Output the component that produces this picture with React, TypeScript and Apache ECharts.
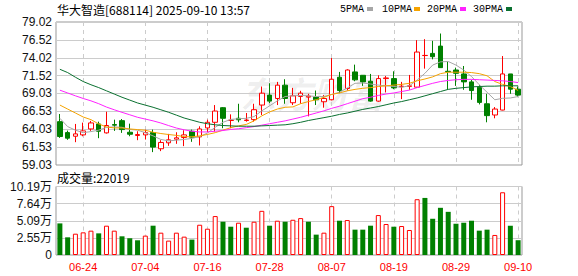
import React, { useEffect, useRef } from 'react';
import * as echarts from 'echarts';

const dates = ['06-19','06-20','06-23','06-24','06-25','06-26','06-27','06-30','07-01','07-02','07-03','07-04','07-07','07-08','07-09','07-10','07-11','07-14','07-15','07-16','07-17','07-18','07-21','07-22','07-23','07-24','07-25','07-28','07-29','07-30','07-31','08-01','08-04','08-05','08-06','08-07','08-08','08-11','08-12','08-13','08-14','08-15','08-18','08-19','08-20','08-21','08-22','08-25','08-26','08-27','08-28','08-29','09-01','09-02','09-03','09-04','09-05','09-08','09-09','09-10'];

const opens = [65.09,63.56,63.05,63.24,64.07,64.77,63.52,64.68,65.23,63.61,63.15,63.24,63.56,61.30,62.13,62.64,62.87,63.75,62.96,64.21,65.00,67.04,65.25,65.56,65.25,65.37,67.41,68.80,68.33,70.19,67.73,68.61,68.52,68.52,67.87,68.15,71.30,69.72,72.04,71.57,70.74,67.96,71.11,71.11,69.98,70.02,69.91,74.33,74.63,75.65,72.13,72.31,71.76,70.65,69.91,67.59,66.02,66.71,71.76,69.63];
const closes = [63.01,62.78,63.38,63.80,64.91,63.75,64.55,64.60,63.98,63.33,63.29,63.56,61.53,62.18,62.55,62.83,63.24,62.92,64.07,65.00,66.57,65.56,65.30,65.35,65.32,66.76,69.07,67.96,70.19,68.33,68.70,69.07,68.66,68.15,68.33,71.02,69.44,72.31,70.93,70.65,67.96,71.11,71.20,69.81,70.05,70.10,74.82,74.35,74.17,72.64,72.06,71.85,70.65,69.44,67.78,65.93,66.85,71.76,69.63,68.80];
const lows = [62.82,62.55,62.22,63.05,63.80,62.78,63.43,63.80,63.52,63.05,62.50,62.59,60.83,60.97,61.71,61.99,61.67,62.27,61.76,63.61,63.70,64.17,64.17,65.00,65.09,65.09,66.02,67.69,67.41,67.59,67.41,67.59,65.83,67.41,67.04,68.06,69.07,69.44,70.74,70.09,67.87,67.87,69.17,69.63,68.24,69.54,69.81,72.50,73.80,72.60,69.54,70.09,69.54,68.15,67.50,65.00,65.56,66.67,68.98,68.52];
const highs = [66.16,63.84,64.77,64.95,65.19,65.09,66.48,65.37,65.46,64.81,63.75,63.98,63.98,62.50,63.38,63.61,63.89,63.98,64.44,65.37,67.41,67.13,66.11,67.59,66.30,67.59,70.00,70.46,70.65,71.02,69.81,69.40,68.98,69.44,68.80,73.98,72.04,72.41,73.06,71.60,71.76,71.57,71.48,72.13,70.65,71.62,76.48,76.62,76.39,77.41,73.47,72.64,72.87,70.93,70.19,68.98,67.13,74.26,71.76,70.00];
const volumes = [47000,26300,31700,33700,36200,32200,43600,36200,27800,24800,21900,28800,43600,33200,21400,33200,27300,22900,45000,39100,57900,49500,42100,48000,40600,49500,65700,43600,51000,49500,52400,54900,49500,30300,33200,72700,51000,52000,37700,37700,43600,59400,46100,42100,43100,37200,83000,84900,53900,70200,64200,46500,48000,51000,36200,37700,29800,93300,43600,22019];

const ma5 = [65.56,64.4,63.9,63.55,63.7,63.9,64.3,64.35,64.3,64.0,63.9,63.55,63.1,62.6,62.4,62.5,62.6,62.75,63.0,63.5,64.3,65.0,65.4,65.5,65.55,65.8,66.6,67.3,68.0,68.6,68.7,68.75,68.7,68.6,68.6,68.9,69.2,69.8,70.45,70.5,70.35,70.2,70.1,70.0,69.9,70.1,70.9,71.85,73.0,73.45,73.5,73.0,72.3,71.4,70.25,69.2,68.15,68.35,68.4,68.6];
const ma10 = [67.41,66.85,66.3,65.74,65.37,64.77,64.35,64.21,64.21,64.07,63.98,63.89,63.61,63.43,63.29,63.17,63.0,62.97,63.1,63.3,63.55,63.9,64.25,64.5,64.7,65.2,65.9,66.45,66.85,67.1,67.15,67.6,67.9,68.15,68.5,68.9,69.1,69.4,69.6,69.75,69.85,70.0,70.1,70.2,70.3,70.45,70.8,71.05,71.35,71.8,72.0,72.0,72.0,71.95,71.8,71.5,70.7,70.3,70.0,69.45];
const ma20 = [69.49,69.1,68.7,68.33,68.0,67.6,67.13,66.75,66.39,66.05,65.7,65.45,65.2,64.9,64.54,64.2,63.95,63.75,63.65,63.65,63.75,63.85,64.0,64.1,64.25,64.4,64.6,64.8,65.0,65.2,65.45,65.7,66.0,66.3,66.6,66.95,67.25,67.6,67.95,68.3,68.5,68.75,68.95,69.1,69.3,69.5,69.85,70.15,70.45,70.7,70.85,70.95,71.0,71.0,70.95,70.9,70.85,70.8,70.7,70.55];
const ma30 = [72.41,71.95,71.3,70.7,70.25,69.85,69.4,68.95,68.5,68.1,67.7,67.4,67.1,66.75,66.4,66.0,65.6,65.3,65.0,64.8,64.65,64.55,64.5,64.45,64.45,64.45,64.5,64.55,64.6,64.65,64.8,65.0,65.25,65.45,65.65,65.85,66.1,66.3,66.55,66.8,67.0,67.2,67.45,67.7,67.9,68.15,68.4,68.7,69.0,69.3,69.6,69.75,69.85,69.95,70.0,70.05,70.05,70.1,70.1,70.1];

const priceTicks = [59.03, 61.53, 64.03, 66.53, 69.03, 71.52, 74.02, 76.52, 79.02];
const priceTickLabels = ['59.03', '61.53', '64.03', '66.53', '69.03', '71.52', '74.02', '76.52', '79.02'];
const volTicks = [0, 25475, 50950, 76425, 101900];
const volTickLabels = ['0', '2.55万', '5.09万', '7.64万', '10.19万'];

const maNames = ['5PMA', '10PMA', '20PMA', '30PMA'];
const maColors = ['#a6a6a6', '#f5a300', '#ff22ff', '#0a7030'];

const titleText = '华大智造[688114] 2025-09-10 13:57';
const volTitle = '成交量:22019';

function nearestLabel(v: number, ticks: number[], labels: string[]) {
  let best = 0;
  for (let i = 1; i < ticks.length; i++) {
    if (Math.abs(ticks[i] - v) < Math.abs(ticks[best] - v)) best = i;
  }
  return labels[best];
}

const RED = '#ff0000';
const GREEN = '#008000';
const GRID_LINE = '#cccccc';
const labelInterval = (i: number) => (i - 3) % 8 === 0;

export default function App() {
  const ref = useRef<HTMLDivElement>(null);
  useEffect(() => {
    if (!ref.current) return;
    const chart = echarts.init(ref.current, null, { renderer: 'svg' });
    const candleData = dates.map((_, i) => [opens[i], closes[i], lows[i], highs[i]]);
    const volData = volumes.map((v, i) => {
      const up = i === 0 ? closes[0] >= opens[0] : closes[i] >= closes[i - 1];
      return {
        value: v,
        itemStyle: up
          ? { color: '#ffffff', borderColor: RED, borderWidth: 1 }
          : { color: GREEN, borderColor: GREEN, borderWidth: 0 },
      };
    });
    const mas = [ma5, ma10, ma20, ma30];
    const legendX = [340, 382, 427, 473];
    const legendSq = [367, 414, 460, 506];
    const graphics: any[] = [
      {
        type: 'text', x: 240, y: 92, z: -10, silent: true,
        style: { text: '东方财富', font: 'italic bold 36px "Noto Sans CJK SC"', fill: 'rgba(0,0,0,0.07)', verticalAlign: 'middle' },
      },
      {
        type: 'text', x: 57, y: 9,
        style: { text: titleText, font: '12px "Noto Sans CJK SC"', fill: '#000', verticalAlign: 'middle' },
      },
      {
        type: 'text', x: 57, y: 177,
        style: { text: volTitle, font: '12px "Noto Sans CJK SC"', fill: '#000', verticalAlign: 'middle' },
      },
    ];
    maNames.forEach((n, k) => {
      graphics.push({
        type: 'text', x: legendX[k], y: 9,
        style: { text: n, font: '10px "Liberation Mono"', fill: '#000', verticalAlign: 'middle' },
      });
      graphics.push({
        type: 'rect', shape: { x: legendSq[k], y: 7, width: 6, height: 4 },
        style: { fill: maColors[k] },
      });
    });

    const option: any = {
      animation: false,
      backgroundColor: '#ffffff',
      grid: [
        { left: 56, right: 56, top: 22, height: 143, show: true, borderColor: '#999999', borderWidth: 1 },
        { left: 56, right: 56, top: 186.5, height: 68.5, show: true, borderColor: '#999999', borderWidth: 1 },
      ],
      xAxis: [
        {
          type: 'category', gridIndex: 0, data: dates, boundaryGap: true,
          axisLine: { show: false }, axisTick: { show: false }, axisLabel: { show: false },
          splitLine: { show: true, interval: labelInterval, alignWithLabel: true, lineStyle: { color: GRID_LINE, type: [4, 4] } },
        },
        {
          type: 'category', gridIndex: 1, data: dates, boundaryGap: true,
          axisLine: { show: false }, axisTick: { show: false },
          axisLabel: { interval: labelInterval, color: RED, fontSize: 11, margin: 6, fontFamily: '"Liberation Sans", Arial' },
          splitLine: { show: true, interval: labelInterval, alignWithLabel: true, lineStyle: { color: GRID_LINE, type: [4, 4] } },
        },
      ],
      yAxis: [
        {
          type: 'value', gridIndex: 0, min: priceTicks[0], max: priceTicks[priceTicks.length - 1], scale: true,
          axisLine: { show: false },
          axisTick: { show: false, customValues: priceTicks },
          axisLabel: {
            customValues: priceTicks, margin: 4, color: '#111', fontSize: 12, fontFamily: '"Liberation Sans", Arial',
            formatter: (v: number) => nearestLabel(v, priceTicks, priceTickLabels),
          },
          splitLine: { show: true, lineStyle: { color: GRID_LINE } },
        },
        {
          type: 'value', gridIndex: 1, min: volTicks[0], max: volTicks[volTicks.length - 1],
          axisLine: { show: false },
          axisTick: { show: false, customValues: volTicks },
          axisLabel: {
            customValues: volTicks, margin: 4, color: '#111', fontSize: 12, fontFamily: '"Liberation Sans", "Noto Sans CJK SC", Arial',
            formatter: (v: number) => nearestLabel(v, volTicks, volTickLabels),
          },
          splitLine: { show: true, lineStyle: { color: GRID_LINE } },
        },
      ],
      series: [
        {
          type: 'candlestick', name: 'K', xAxisIndex: 0, yAxisIndex: 0, data: candleData, barWidth: 5,
          itemStyle: { color: '#ffffff', color0: GREEN, borderColor: RED, borderColor0: GREEN, borderWidth: 1 },
        },
        ...mas.map((d, k) => ({
          type: 'line', name: maNames[k], xAxisIndex: 0, yAxisIndex: 0, data: d,
          showSymbol: false, symbol: 'none', smooth: false,
          lineStyle: { color: maColors[k], width: 1 }, itemStyle: { color: maColors[k] }, z: 3,
        })),
        {
          type: 'bar', name: 'VOL', xAxisIndex: 1, yAxisIndex: 1, data: volData, barWidth: 5,
        },
      ],
      graphic: graphics,
    };
    chart.setOption(option);
    return () => chart.dispose();
  }, []);
  return (
    <div
      ref={ref}
      style={{ position: 'absolute', left: 0, top: 0, width: 578, height: 276, background: '#fff' }}
    />
  );
}
